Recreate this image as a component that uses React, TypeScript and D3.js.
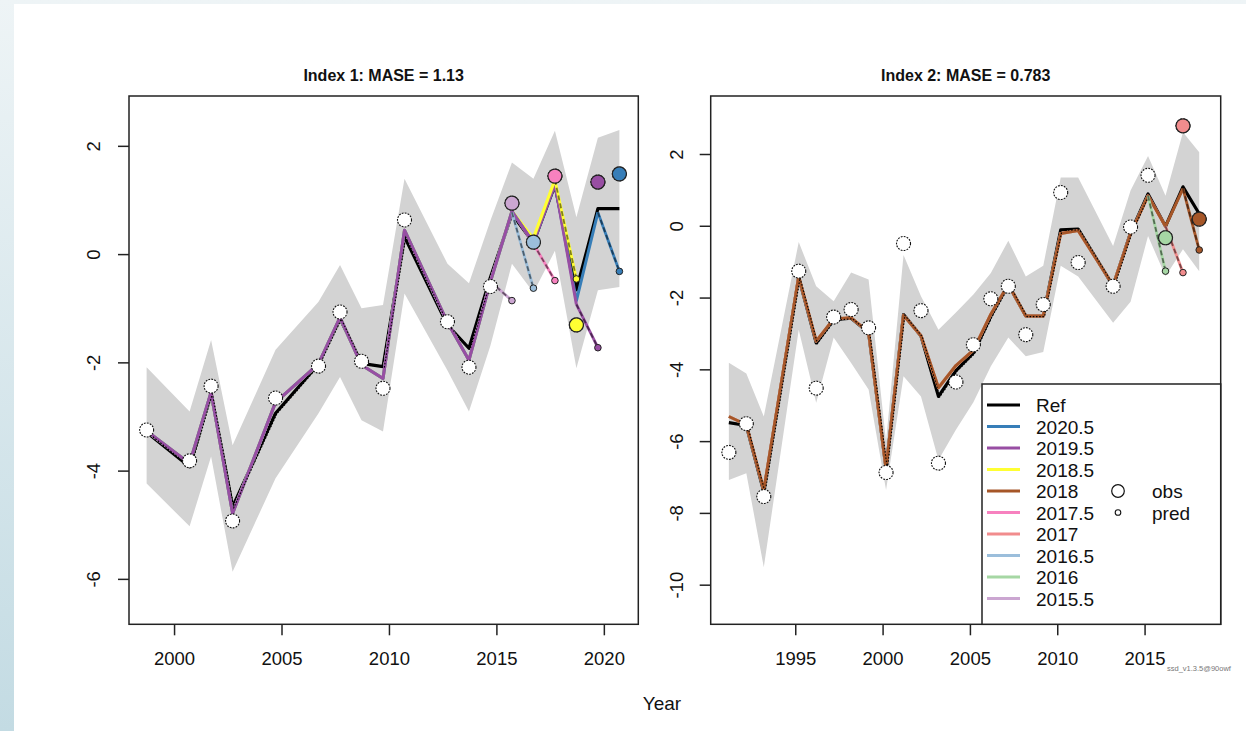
import React from "react";
import * as d3 from "d3";

// ---------- shared legend ----------
const peelNames = ["2020.5", "2019.5", "2018.5", "2018", "2017.5", "2017", "2016.5", "2016", "2015.5"];
const peelColors = ["#377EB8", "#984EA3", "#FFFF33", "#A65628", "#F781BF", "#F18C8D", "#9BBEDB", "#A6D7A4", "#CBA6D1"];

// ---------- Index 1 ----------
const leftTitle = "Index 1: MASE = 1.13";
const leftYears = [1998.7, 2000.7, 2001.7, 2002.7, 2004.7, 2006.7, 2007.7, 2008.7, 2009.7, 2010.7, 2012.7, 2013.7, 2014.7, 2015.7, 2016.7, 2017.7, 2018.7, 2019.7, 2020.7];
const leftObs = [-3.24, -3.81, -2.43, -4.92, -2.65, -2.06, -1.06, -1.97, -2.47, 0.64, -1.24, -2.08, -0.59, 0.95, 0.23, 1.45, -1.3, 1.34, 1.49];
const leftRef = [-3.28, -3.92, -2.56, -4.66, -2.93, -2.02, -1.18, -2.01, -2.07, 0.33, -1.3, -1.73, -0.42, 0.75, 0.22, 1.28, -0.65, 0.85, 0.85];
const leftUpper = [-2.08, -2.9, -1.58, -3.52, -1.76, -0.87, -0.19, -0.99, -0.93, 1.4, -0.17, -0.53, 0.63, 1.7, 1.4, 2.29, 0.69, 2.16, 2.3];
const leftLower = [-4.23, -5.02, -3.73, -5.86, -4.13, -2.93, -2.26, -3.06, -3.27, -0.72, -2.14, -2.9, -1.68, -0.17, -0.7, 0.07, -2.1, -0.66, -0.6];
const leftFitCommon = [-3.26, -3.86, -2.54, -4.78, -2.73, -2.02, -1.16, -2.04, -2.29, 0.45, -1.25, -1.95, -0.5];
const leftPeelIds = ["2015.5", "2016.5", "2017.5", "2018.5", "2019.5", "2020.5"];
const leftPeelTails = [[], [0.78], [0.8, 0.2], [0.8, 0.3, 1.38], [0.8, 0.22, 1.3, -0.92], [0.8, 0.22, 1.3, -0.85, 0.78]];
const leftPeelPreds = [-0.85, -0.62, -0.48, -0.45, -1.72, -0.31];
const leftDrawOrder = [0, 1, 2, 3, 5, 4];
const leftOverlayPeel = "2018.5";
const leftOverlayFrom = 2016.7;
const leftXTicks = [2000, 2005, 2010, 2015, 2020];
const leftYTicks = [-6, -4, -2, 0, 2];

// ---------- Index 2 ----------
const rightTitle = "Index 2: MASE = 0.783";
const rightYears = [1991.17, 1992.17, 1993.17, 1995.17, 1996.17, 1997.17, 1998.17, 1999.17, 2000.17, 2001.17, 2002.17, 2003.17, 2004.17, 2005.17, 2006.17, 2007.17, 2008.17, 2009.17, 2010.17, 2011.17, 2013.17, 2014.17, 2015.17, 2016.17, 2017.17, 2018.1];
const rightObs = [-6.3, -5.5, -7.53, -1.25, -4.51, -2.53, -2.32, -2.83, -6.86, -0.48, -2.35, -6.6, -4.34, -3.3, -2.02, -1.67, -3.02, -2.18, 0.94, -1.01, -1.67, -0.02, 1.42, -0.32, 2.8, 0.2];
const rightRef = [-5.47, -5.55, -7.4, -1.42, -3.25, -2.6, -2.56, -2.96, -6.75, -2.46, -3.06, -4.74, -4.02, -3.53, -2.5, -1.62, -2.5, -2.5, -0.1, -0.08, -1.66, -0.18, 0.9, 0.0, 1.1, 0.35];
const rightUpper = [-3.8, -4.1, -5.3, -0.44, -1.67, -2.09, -1.29, -1.48, -6.0, -0.8, -1.95, -2.88, -2.4, -1.9, -1.3, -0.4, -1.4, -1.1, 1.36, 1.36, -0.55, 1.0, 1.96, 0.85, 2.62, 2.06];
const rightLower = [-7.07, -6.88, -9.5, -2.88, -4.92, -3.1, -3.81, -4.55, -7.35, -4.18, -4.74, -6.51, -5.67, -4.9, -3.9, -3.1, -3.62, -3.5, -1.1, -1.4, -2.69, -2.1, -0.27, -1.39, -0.64, -1.25];
const rightFitCommon = [-5.3, -5.53, -7.35, -1.4, -3.2, -2.58, -2.55, -2.95, -6.75, -2.48, -3.05, -4.5, -3.88, -3.45, -2.45, -1.62, -2.5, -2.5, -0.2, -0.12, -1.65, -0.2, 0.85];
const rightPeelIds = ["2016", "2017", "2018"];
const rightPeelTails = [[], [0.0], [0.0, 1.05]];
const rightPeelPreds = [-1.25, -1.29, -0.66];
const rightDrawOrder = [0, 1, 2];
const rightXTicks = [1995, 2000, 2005, 2010, 2015];
const rightYTicks = [-10, -8, -6, -4, -2, 0, 2];

const FONT = "'Liberation Sans', Arial, Helvetica, sans-serif";

function colorOf(id: string) {
  return peelColors[peelNames.indexOf(id)];
}

type PanelProps = {
  box: [number, number, number, number];
  xDomain: [number, number];
  yDomain: [number, number];
  xTicks: number[];
  yTicks: number[];
  labelX: number;
  title: string;
  years: number[];
  obs: number[];
  refVals: number[];
  upper: number[];
  lower: number[];
  common: number[];
  peelIds: string[];
  tails: number[][];
  preds: number[];
  order: number[];
  overlayPeel?: string;
  overlayFrom?: number;
};

function Panel(p: PanelProps) {
  const [L, T, R, B] = p.box;
  const xs = d3.scaleLinear().domain(p.xDomain).range([L, R]);
  const ys = d3.scaleLinear().domain(p.yDomain).range([B, T]);
  const line = d3
    .line<[number, number]>()
    .x((d) => xs(d[0]))
    .y((d) => ys(d[1]));
  const area = d3
    .area<number>()
    .x((_, i) => xs(p.years[i]))
    .y0((_, i) => ys(p.lower[i]))
    .y1((_, i) => ys(p.upper[i]));
  const refPts: [number, number][] = p.years.map((y, i) => [y, p.refVals[i]]);
  const n0 = p.common.length;

  const peels = p.order.map((k) => {
    const vals = p.common.concat(p.tails[k]);
    const fit: [number, number][] = vals.map((v, i) => [p.years[i], v]);
    const last = fit[fit.length - 1];
    const predPt: [number, number] = [p.years[n0 + k], p.preds[k]];
    const obsPt: [number, number] = [p.years[n0 + k], p.obs[n0 + k]];
    return { id: p.peelIds[k], col: colorOf(p.peelIds[k]), fit, proj: [last, predPt] as [number, number][], predPt, obsPt };
  });
  const overlay = p.overlayPeel ? peels.find((pl) => pl.id === p.overlayPeel) : undefined;

  const cx = (L + R) / 2;
  return (
    <g>
      <text x={cx} y={81} textAnchor="middle" fontFamily={FONT} fontWeight="bold" fontSize={16} fill="#111">
        {p.title}
      </text>
      <path d={area(p.years) || ""} fill="#D3D3D3" stroke="none" />
      <path d={line(refPts) || ""} fill="none" stroke="#000" strokeWidth={3.2} strokeLinejoin="round" />
      {peels.map((pl) => (
        <path key={"g" + pl.id} d={line(pl.fit) || ""} fill="none" stroke={pl.col} strokeWidth={3} strokeLinejoin="round" />
      ))}
      {overlay && (
        <path
          d={line(overlay.fit.filter((d) => d[0] >= (p.overlayFrom as number))) || ""}
          fill="none"
          stroke={overlay.col}
          strokeWidth={3}
          strokeLinejoin="round"
        />
      )}
      <path
        d={line(refPts.slice(0, n0)) || ""}
        transform="translate(1.3,0.6)"
        fill="none"
        stroke="#000"
        strokeWidth={1.1}
        strokeDasharray="1.5 1.7"
      />
      {peels.map((pl) => (
        <g key={"p" + pl.id}>
          <path d={line(pl.proj) || ""} fill="none" stroke={pl.col} strokeWidth={2.8} />
          <path d={line(pl.proj) || ""} fill="none" stroke="#000" strokeOpacity={0.5} strokeWidth={1.8} strokeDasharray="5 3" />
        </g>
      ))}
      {p.years.map((y, i) => (
        <circle key={"o" + i} cx={xs(y)} cy={ys(p.obs[i])} r={7} fill="#fff" stroke="#111" strokeWidth={1.1} strokeDasharray="1.8 1.2" />
      ))}
      {peels.map((pl) => (
        <circle key={"s" + pl.id} cx={xs(pl.predPt[0])} cy={ys(pl.predPt[1])} r={3.3} fill={pl.col} stroke="#222" strokeWidth={1} />
      ))}
      {peels.map((pl) => (
        <circle key={"b" + pl.id} cx={xs(pl.obsPt[0])} cy={ys(pl.obsPt[1])} r={7} fill={pl.col} stroke="#222" strokeWidth={1.2} />
      ))}
      <rect x={L} y={T} width={R - L} height={B - T} fill="none" stroke="#222" strokeWidth={1.5} />
      {p.xTicks.map((t) => (
        <g key={"xt" + t}>
          <line x1={xs(t)} x2={xs(t)} y1={B} y2={B + 11} stroke="#222" strokeWidth={1.5} />
          <text x={xs(t)} y={665} textAnchor="middle" fontFamily={FONT} fontSize={18.5} fill="#111">
            {t}
          </text>
        </g>
      ))}
      {p.yTicks.map((t) => (
        <g key={"yt" + t}>
          <line x1={L - 11} x2={L} y1={ys(t)} y2={ys(t)} stroke="#222" strokeWidth={1.5} />
          <text
            x={0}
            y={0}
            transform={`translate(${p.labelX},${ys(t)}) rotate(-90)`}
            textAnchor="middle"
            dominantBaseline="central"
            fontFamily={FONT}
            fontSize={18.5}
            fill="#111"
          >
            {t}
          </text>
        </g>
      ))}
    </g>
  );
}

function Legend() {
  const left = 982;
  const top = 384;
  const right = 1220.7;
  const bottom = 624.3;
  const items = ["Ref"].concat(peelNames);
  const cols = ["#000"].concat(peelColors);
  const rowY = (i: number) => 405 + i * 21.5;
  return (
    <g>
      <rect x={left} y={top} width={right - left} height={bottom - top} fill="#fff" stroke="#222" strokeWidth={1.5} />
      {items.map((it, i) => (
        <g key={it}>
          <line x1={987} x2={1020} y1={rowY(i)} y2={rowY(i)} stroke={cols[i]} strokeWidth={3} />
          <text x={1036} y={rowY(i) + 7} fontFamily={FONT} fontSize={19} fill="#111">
            {it}
          </text>
        </g>
      ))}
      <circle cx={1118} cy={rowY(4)} r={6.3} fill="#fff" stroke="#111" strokeWidth={1.2} />
      <circle cx={1118} cy={rowY(5)} r={2.8} fill="#fff" stroke="#111" strokeWidth={1.1} />
      <text x={1152} y={rowY(4) + 7} fontFamily={FONT} fontSize={19} fill="#111">obs</text>
      <text x={1152} y={rowY(5) + 7} fontFamily={FONT} fontSize={19} fill="#111">pred</text>
    </g>
  );
}

export default function App() {
  return (
    <svg
      width={1246}
      height={731}
      viewBox="0 0 1246 731"
      style={{ position: "absolute", left: 0, top: 0, display: "block" }}
    >
      <defs>
        <linearGradient id="bgGrad" x1="0" y1="0" x2="0" y2="1">
          <stop offset="0" stopColor="#eef4f6" />
          <stop offset="1" stopColor="#c3dbe3" />
        </linearGradient>
      </defs>
      <rect x={0} y={0} width={1246} height={731} fill="url(#bgGrad)" />
      <rect x={14} y={4} width={1232} height={727} fill="#fff" />
      <Panel
        box={[129, 96, 638.3, 624.3]}
        xDomain={[1997.88, 2021.58]}
        yDomain={[-6.83, 2.93]}
        xTicks={leftXTicks}
        yTicks={leftYTicks}
        labelX={93}
        title={leftTitle}
        years={leftYears}
        obs={leftObs}
        refVals={leftRef}
        upper={leftUpper}
        lower={leftLower}
        common={leftFitCommon}
        peelIds={leftPeelIds}
        tails={leftPeelTails}
        preds={leftPeelPreds}
        order={leftDrawOrder}
        overlayPeel={leftOverlayPeel}
        overlayFrom={leftOverlayFrom}
      />
      <Panel
        box={[710.7, 96, 1220.7, 624.3]}
        xDomain={[1990.13, 2019.33]}
        yDomain={[-11.09, 3.63]}
        xTicks={rightXTicks}
        yTicks={rightYTicks}
        labelX={676}
        title={rightTitle}
        years={rightYears}
        obs={rightObs}
        refVals={rightRef}
        upper={rightUpper}
        lower={rightLower}
        common={rightFitCommon}
        peelIds={rightPeelIds}
        tails={rightPeelTails}
        preds={rightPeelPreds}
        order={rightDrawOrder}
      />
      <Legend />
      <text x={662} y={710} textAnchor="middle" fontFamily={FONT} fontSize={19} fill="#111">
        Year
      </text>
      <text x={1167} y={671} fontFamily={FONT} fontSize={7.5} fill="#777">
        ssd_v1.3.5@90owf
      </text>
    </svg>
  );
}
